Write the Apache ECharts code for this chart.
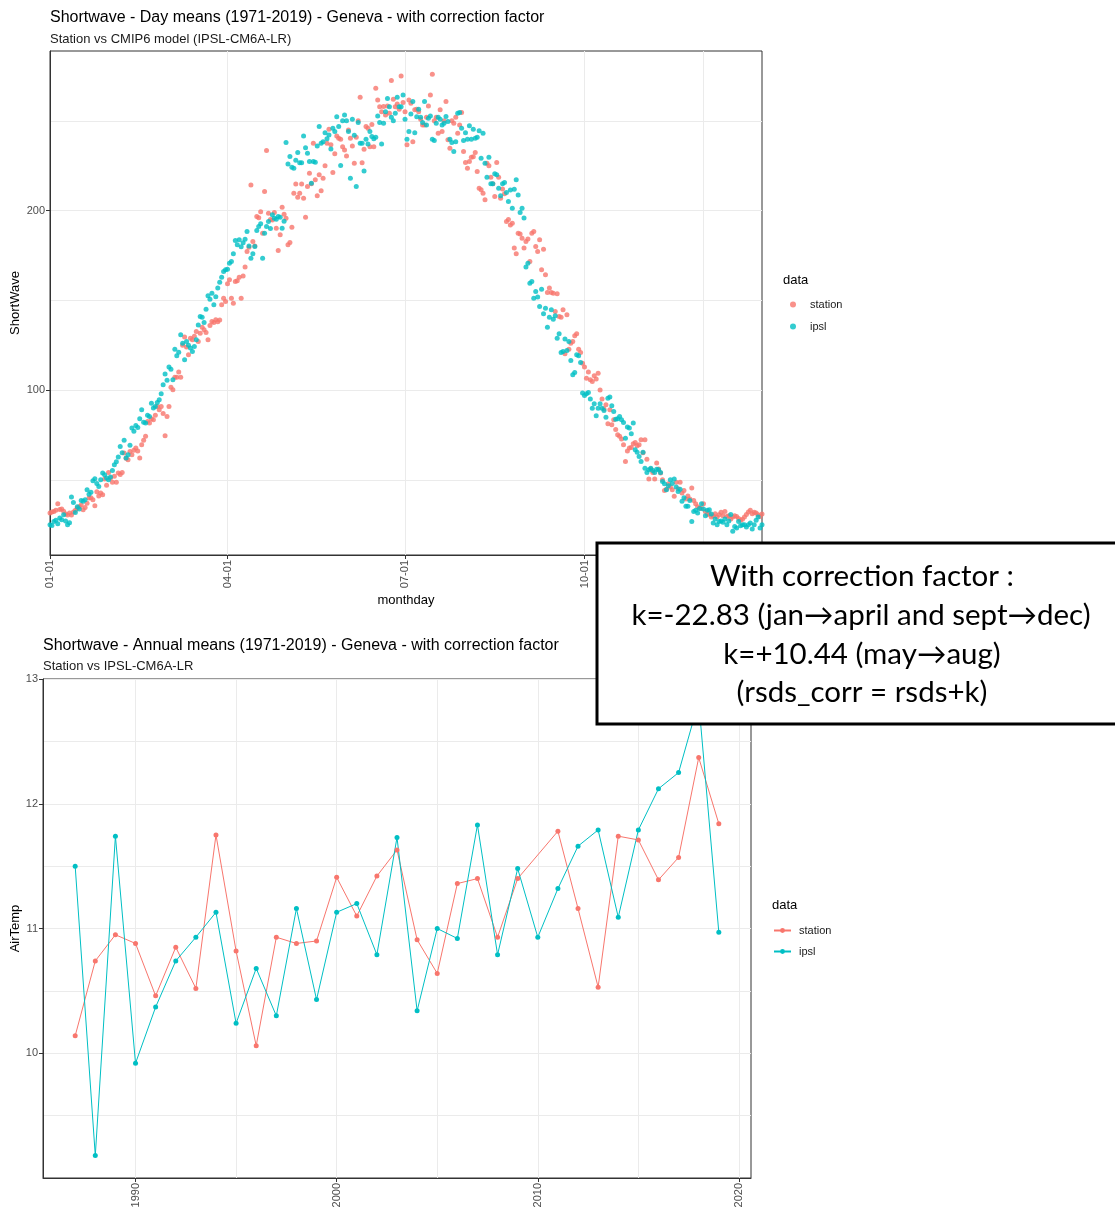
<!DOCTYPE html>
<html>
<head>
<meta charset="utf-8">
<title>Shortwave - Geneva</title>
<script src="https://cdn.jsdelivr.net/npm/echarts@6.0.0/dist/echarts.min.js"></script>
<style>
  html, body { margin: 0; padding: 0; background: #fff; }
  #chart { width: 1115px; height: 1211px; }
</style>
</head>
<body>
<div id="chart"></div>
<script>
// day means, index 0 = 01-01 (366 day calendar)
var monthdayTicks = [0, 91, 182, 274];
var monthdayLabels = ['01-01', '04-01', '07-01', '10-01'];

var stationDay = [
  31.5, 32, 32.4, 33, 36.7, 33.5, 33.7, 32.5, 31, 30.4,
  31.5, 30.4, 32, 33, 34.3, 35, 36, 33.3, 34.6, 37,
  39.8, 40, 38.9, 35.6, 43.4, 41, 42.6, 41.7, 50.4, 47,
  54.1, 51, 48.6, 52, 48.6, 53.8, 53, 54.1, 64.9, 62,
  61.2, 65.8, 64, 66.4, 67.7, 66, 62.1, 69.5, 72, 74.2,
  82.5, 81.6, 84, 83.4, 86, 90.9, 89, 90.9, 87, 74.5,
  85.3, 90.9, 101.6, 100.1, 107.2, 107.2, 110, 107.2, 125, 129.5,
  124, 119.6, 128.9, 128, 130, 132.6, 127.1, 131.7, 135, 133.6,
  132.1, 128, 136, 138.2, 137.6, 139.1, 138, 139, 147.5, 151.2,
  149.3, 159.2, 161.4, 151.2, 148.4, 160.5, 160.9, 162.9, 151.2, 163.6,
  168.5, 177.2, 179.6, 214.3, 182.7, 180.3, 196.7, 196, 199.4, 187.4,
  210.6, 233.4, 198.5, 195, 194.8, 198.9, 190.2, 177.7, 186.5, 201.9,
  198, 195.7, 180.9, 182.2, 190.7, 209.7, 214.8, 207.4, 209.7, 214.8,
  206.9, 196.3, 213.4, 220.8, 215, 237.5, 217.1, 208.2, 219.9, 211.1,
  218, 225, 237.5, 245.3, 236.6, 221.2, 231.6, 241.6, 240.3, 239.7,
  235.6, 233.8, 230.4, 244.9, 240.3, 236, 226.4, 240.8, 250, 263.1,
  226.7, 234.2, 246.8, 245.8, 235.6, 248, 235.6, 268.1, 261.6, 257.9,
  255.1, 258, 253.3, 258.3, 254.2, 272.4, 262, 257.9, 259.4, 256.4,
  275, 260.2, 255.1, 236.6, 261.6, 259.8, 238.4, 256.1, 256.4, 255.1,
  250.9, 247.7, 247.7, 252, 258.3, 264.4, 275.9, 250, 252, 243.1,
  256.1, 244, 250, 260.7, 239.4, 234.7, 250.1, 248.6, 252, 243.1,
  247.7, 254.6, 232.9, 226.8, 223.6, 227.3, 229.7, 230, 232.3, 221.7,
  212.5, 211.6, 209.7, 206, 226.4, 224.9, 218.6, 215, 207.8, 226.8,
  218.6, 206.9, 212, 209.3, 193.9, 195, 192, 193, 179.1, 175.9,
  187.4, 187, 184.6, 179.1, 182.8, 184.1, 171.6, 187.4, 188.3, 180,
  177.2, 183.7, 167, 178.5, 164.2, 154.4, 156.8, 154.3, 154, 143.8,
  153.6, 141, 140.6, 144.7, 120.2, 141.9, 122.8, 126.1, 127.1, 130.2,
  131.3, 122.8, 120.9, 115, 112.8, 106.6, 110, 105.7, 104.8, 108,
  106.1, 109.4, 100, 95, 89.4, 91.8, 81.2, 89, 80.7, 83.4,
  78, 75.1, 74.2, 72.7, 69.5, 60.2, 66, 67.7, 68, 70.1,
  70.8, 69, 69.5, 72.3, 65, 72.3, 61.5, 50.4, 56, 54,
  50.4, 59.3, 56, 53.8, 50, 44.1, 44.8, 47.8, 46, 44.5,
  40.8, 48.6, 45, 48.6, 42.6, 44.1, 39.3, 41, 39.3, 45.4,
  38.5, 36.7, 35, 34.3, 34, 36.7, 32.4, 30.6, 31, 29.3,
  30, 31.1, 29.3, 30.5, 31.9, 30, 32.4, 29.6, 30, 28.1,
  29.3, 30, 29.6, 28.5, 27.4, 28, 29.3, 30.6, 32, 33,
  31.1, 31.9, 31.5, 30.5, 29.6, 31
];

var ipslDay = [
  25, 24.5, 26.8, 27.5, 25.5, 28.7, 27.8, 30.5, 27, 25,
  26, 40.4, 37.4, 31.8, 35, 33.7, 38.5, 38, 38.9, 44.5,
  42, 43, 49.5, 50.6, 48, 46.3, 50, 53.8, 52.8, 51,
  50, 51.5, 55.2, 58.4, 60, 62.7, 68.6, 65, 72, 62.1,
  64, 69.2, 78.8, 77, 80.3, 79.2, 84, 89, 82, 81.6,
  86, 85.3, 92.7, 90, 90.9, 93, 94.6, 98, 102.9, 108.9,
  105.4, 112.8, 111.6, 105.7, 122.8, 119.1, 121, 130.8, 126.1, 116.9,
  127, 125, 123.4, 121.5, 124.3, 128, 136.3, 141, 140.6, 137.6,
  145, 152.5, 150.6, 154, 147.5, 152, 156.8, 160, 162.9, 166,
  167, 167.3, 170.7, 171.6, 176, 183.3, 181, 183.7, 179.9, 182,
  184, 188.3, 180.3, 173.5, 175.9, 180, 188.9, 191.1, 192.6, 173.5,
  187.4, 191.1, 193.9, 190, 197.6, 195.7, 195.2, 196.7, 196.3, 190.2,
  194, 237.9, 226, 230.1, 224.1, 223.6, 228, 232.3, 226.7, 226.7,
  241.6, 235, 232, 227.3, 215.2, 227.3, 226.9, 236, 246.8, 237.5,
  238.4, 243.4, 240, 242.1, 234.3, 245.8, 244, 252.3, 246.8, 225.1,
  250, 253.3, 250.1, 244, 218, 250.9, 242, 213.4, 249, 237.5,
  237.5, 222.1, 239.7, 237.1, 244, 241.2, 240, 240.8, 252.7, 249,
  237.1, 248.6, 255, 262.5, 257.9, 252, 250.1, 254.2, 263.1, 257.9,
  257.9, 264.4, 250.9, 239.7, 244, 253.8, 260.7, 243.4, 252.3, 256.4,
  252, 249, 260.7, 247.7, 251.4, 252.7, 239.7, 239, 248.6, 252,
  250.9, 247.7, 248.6, 252.4, 249.6, 239.7, 237.9, 232.9, 238.4, 254.2,
  254.6, 245.9, 239, 243.4, 239.7, 247.2, 239.7, 245.3, 240.3, 240.8,
  244.5, 229.2, 243.1, 226.4, 218.6, 229.7, 214.9, 214.9, 220.5, 219.9,
  212.5, 208.2, 214.9, 215.6, 210.1, 205, 211.5, 201.3, 211.9, 217.1,
  208.7, 198.9, 201.3, 195.8, 168.5, 170.7, 159.5, 160.5, 151.2, 154.9,
  151.8, 146.5, 156.2, 142.5, 145.6, 135, 140.6, 144.7, 139.5, 141.4,
  128.9, 131.3, 120.9, 121.5, 128.4, 122.1, 127.1, 116.5, 108.5, 109.8,
  119.6, 119.1, 115.4, 98.3, 97, 97.9, 98.7, 95, 89.9, 92.4,
  85.7, 89.9, 92.4, 89.9, 88.6, 84.9, 95.5, 96.1, 91.2, 88,
  83.8, 84, 85.3, 83.4, 81.9, 73.2, 79.4, 78.8, 75.6, 81.6,
  66.7, 65.3, 63, 60.2, 65.3, 56.5, 54.1, 55.6, 56.5, 55.2,
  54, 55.9, 55.6, 54.1, 49.1, 47.8, 44.5, 46.7, 50, 48,
  50.4, 46, 43.5, 44.8, 38, 40, 35.2, 35.2, 38.5, 26.8,
  32.4, 33, 31.5, 34, 36.7, 33.7, 30, 33, 33.3, 31,
  25.9, 28.1, 25, 26.8, 27, 26.3, 28.1, 25, 27, 30.6,
  21.3, 24, 23.1, 26.8, 24.4, 25, 25, 23.7, 25, 25.9,
  22.6, 25, 27.4, 29.3, 23.1, 25
];

// annual means (station has no value for 2010)
var years = [1987, 1988, 1989, 1990, 1991, 1992, 1993, 1994, 1995, 1996, 1997,
  1998, 1999, 2000, 2001, 2002, 2003, 2004, 2005, 2006, 2007, 2008,
  2009, 2010, 2011, 2012, 2013, 2014, 2015, 2016, 2017, 2018, 2019];
var stationYear = [10.14, 10.74, 10.95, 10.88, 10.46, 10.85, 10.52, 11.75, 10.82, 10.06, 10.93,
  10.88, 10.90, 11.41, 11.10, 11.42, 11.63, 10.91, 10.64, 11.36, 11.40, 10.93,
  11.40, null, 11.78, 11.16, 10.53, 11.74, 11.71, 11.39, 11.57, 12.37, 11.84];
var ipslYear = [11.50, 9.18, 11.74, 9.92, 10.37, 10.74, 10.93, 11.13, 10.24, 10.68, 10.30,
  11.16, 10.43, 11.13, 11.20, 10.79, 11.73, 10.34, 11.00, 10.92, 11.83, 10.79,
  11.48, 10.93, 11.32, 11.66, 11.79, 11.09, 11.79, 12.12, 12.25, 12.82, 10.97];

var colStation = '#F8766D';
var colIpsl = '#00BFC4';
var gridColor = '#EBEBEB';
var frameColor = '#333333';
var tickText = '#4D4D4D';
var font = 'Liberation Sans, Arial, sans-serif';
var noteFont = 'Lato';

// hidden axis that only draws the minor grid lines
function minorAxis(gridIndex, position, min, max, values) {
  return {
    type: 'value', gridIndex: gridIndex, position: position, min: min, max: max,
    axisLine: { show: false },
    axisTick: { show: false, customValues: values },
    axisLabel: { show: false },
    splitLine: { show: true, lineStyle: { color: gridColor, width: 1 } }
  };
}

var myChart = echarts.init(document.getElementById('chart'));

myChart.setOption({
  animation: false,
  textStyle: { fontFamily: font },
  title: [
    {
      text: 'Shortwave - Day means (1971-2019) - Geneva - with correction factor',
      subtext: 'Station vs CMIP6 model (IPSL-CM6A-LR)',
      left: 50, top: 10, padding: 0, itemGap: 7,
      textStyle: { fontSize: 16, fontWeight: 'normal', color: '#000', fontFamily: font },
      subtextStyle: { fontSize: 13, color: '#1A1A1A', fontFamily: font }
    },
    {
      text: 'Shortwave - Annual means (1971-2019) - Geneva - with correction factor',
      subtext: 'Station vs IPSL-CM6A-LR',
      left: 43, top: 638, padding: 0, itemGap: 6,
      textStyle: { fontSize: 16, fontWeight: 'normal', color: '#000', fontFamily: font },
      subtextStyle: { fontSize: 13, color: '#1A1A1A', fontFamily: font }
    }
  ],
  legend: [
    {
      data: ['station', 'ipsl'],
      orient: 'vertical', left: 790, top: 299, padding: 0,
      icon: 'circle', itemWidth: 6, itemHeight: 6, itemGap: 11,
      selectedMode: false,
      textStyle: { fontSize: 11, color: '#1A1A1A', padding: [0, 0, 0, 9], fontFamily: font }
    },
    {
      data: ['station_annual', 'ipsl_annual'],
      orient: 'vertical', left: 773, top: 925, padding: 0,
      itemWidth: 17, itemHeight: 6, itemGap: 10,
      selectedMode: false,
      formatter: function (name) { return name.replace('_annual', ''); },
      textStyle: { fontSize: 11, color: '#1A1A1A', padding: [0, 0, 0, 3], fontFamily: font }
    }
  ],
  grid: [
    { left: 50, top: 51, width: 712, height: 504, outerBoundsMode: 'none', containLabel: false,
      show: true, borderColor: frameColor, borderWidth: 1, backgroundColor: '#fff' },
    { left: 43, top: 679, width: 708, height: 499, outerBoundsMode: 'none', containLabel: false,
      show: true, borderColor: frameColor, borderWidth: 1, backgroundColor: '#fff' }
  ],
  xAxis: [
    {
      type: 'value', gridIndex: 0, position: 'bottom', min: 0, max: 365,
      name: 'monthday', nameLocation: 'middle', nameGap: 39, nameMoveOverlap: false,
      nameTextStyle: { fontSize: 13, color: '#000', fontFamily: font },
      axisLine: { show: true, onZero: false, lineStyle: { color: frameColor } },
      axisTick: { show: true, length: 4, customValues: monthdayTicks, lineStyle: { color: frameColor } },
      axisLabel: {
        customValues: monthdayTicks, rotate: 90, fontSize: 11, color: tickText, margin: 5,
        formatter: function (v) { return monthdayLabels[monthdayTicks.indexOf(v)]; }
      },
      splitLine: { show: true, lineStyle: { color: gridColor, width: 1 } }
    },
    {
      type: 'value', gridIndex: 1, position: 'bottom', min: 1985.4, max: 2020.6,
      axisLine: { show: true, onZero: false, lineStyle: { color: frameColor } },
      axisTick: { show: true, length: 4, customValues: [1990, 2000, 2010, 2020], lineStyle: { color: frameColor } },
      axisLabel: {
        customValues: [1990, 2000, 2010, 2020], rotate: 90, fontSize: 11, color: tickText, margin: 5,
        formatter: function (v) { return String(v); }
      },
      splitLine: { show: true, lineStyle: { color: gridColor, width: 1 } }
    },
    minorAxis(0, 'top', 0, 365, [335]),
    minorAxis(1, 'top', 1985.4, 2020.6, [1995, 2005, 2015])
  ],
  yAxis: [
    {
      type: 'value', gridIndex: 0, position: 'left', min: 8.1, max: 288.9,
      name: 'ShortWave', nameLocation: 'middle', nameGap: 28, nameMoveOverlap: false,
      nameTextStyle: { fontSize: 13, color: '#000', fontFamily: font },
      axisLine: { show: true, onZero: false, lineStyle: { color: frameColor } },
      axisTick: { show: true, length: 4, customValues: [100, 200], lineStyle: { color: frameColor } },
      axisLabel: { customValues: [100, 200], fontSize: 11, color: tickText, margin: 5 },
      splitLine: { show: true, lineStyle: { color: gridColor, width: 1 } }
    },
    {
      type: 'value', gridIndex: 1, position: 'left', min: 9.0, max: 13.0,
      name: 'AirTemp', nameLocation: 'middle', nameGap: 21, nameMoveOverlap: false,
      nameTextStyle: { fontSize: 13, color: '#000', fontFamily: font },
      axisLine: { show: true, onZero: false, lineStyle: { color: frameColor } },
      axisTick: { show: true, length: 4, customValues: [10, 11, 12, 13], lineStyle: { color: frameColor } },
      axisLabel: { customValues: [10, 11, 12, 13], fontSize: 11, color: tickText, margin: 5 },
      splitLine: { show: true, lineStyle: { color: gridColor, width: 1 } }
    },
    minorAxis(0, 'right', 8.1, 288.9, [50, 150, 250]),
    minorAxis(1, 'right', 9.0, 13.0, [9.5, 10.5, 11.5, 12.5])
  ],
  series: [
    {
      name: 'station', type: 'scatter', xAxisIndex: 0, yAxisIndex: 0,
      data: stationDay.map(function (v, i) { return [i, v]; }),
      symbolSize: 5, itemStyle: { color: colStation }, emphasis: { disabled: true }
    },
    {
      name: 'ipsl', type: 'scatter', xAxisIndex: 0, yAxisIndex: 0,
      data: ipslDay.map(function (v, i) { return [i, v]; }),
      symbolSize: 5, itemStyle: { color: colIpsl }, emphasis: { disabled: true }
    },
    {
      name: 'station_annual', type: 'line', xAxisIndex: 1, yAxisIndex: 1,
      data: years.map(function (y, i) { return [y, stationYear[i]]; }),
      connectNulls: true, symbol: 'circle', symbolSize: 5,
      lineStyle: { color: colStation, width: 1 }, itemStyle: { color: colStation },
      emphasis: { disabled: true }
    },
    {
      name: 'ipsl_annual', type: 'line', xAxisIndex: 1, yAxisIndex: 1,
      data: years.map(function (y, i) { return [y, ipslYear[i]]; }),
      connectNulls: true, symbol: 'circle', symbolSize: 5,
      lineStyle: { color: colIpsl, width: 1 }, itemStyle: { color: colIpsl },
      emphasis: { disabled: true }
    }
  ],
  graphic: [
    { type: 'text', x: 783, y: 280, style: { text: 'data', fontSize: 13, fontFamily: font, fill: '#000', verticalAlign: 'middle' } },
    { type: 'text', x: 772, y: 905, style: { text: 'data', fontSize: 13, fontFamily: font, fill: '#000', verticalAlign: 'middle' } },
    // note box on top of both charts
    { type: 'rect', z: 100, shape: { x: 597, y: 543, width: 530, height: 181 }, style: { fill: '#fff', stroke: '#000', lineWidth: 3 } },
    { type: 'text', z: 101, x: 862, y: 576, style: { text: 'With correction factor :', fontSize: 29.5, fontFamily: noteFont, fill: '#000', align: 'center', verticalAlign: 'middle' } },
    { type: 'text', z: 101, x: 861, y: 615, style: { text: 'k=-22.83 (jan\u2192april and sept\u2192dec)', fontSize: 29.5, fontFamily: noteFont, fill: '#000', align: 'center', verticalAlign: 'middle' } },
    { type: 'text', z: 101, x: 862, y: 654, style: { text: 'k=+10.44 (may\u2192aug)', fontSize: 29.5, fontFamily: noteFont, fill: '#000', align: 'center', verticalAlign: 'middle' } },
    { type: 'text', z: 101, x: 862, y: 692, style: { text: '(rsds_corr = rsds+k)', fontSize: 29.5, fontFamily: noteFont, fill: '#000', align: 'center', verticalAlign: 'middle' } }
  ]
});
</script>
</body>
</html>
